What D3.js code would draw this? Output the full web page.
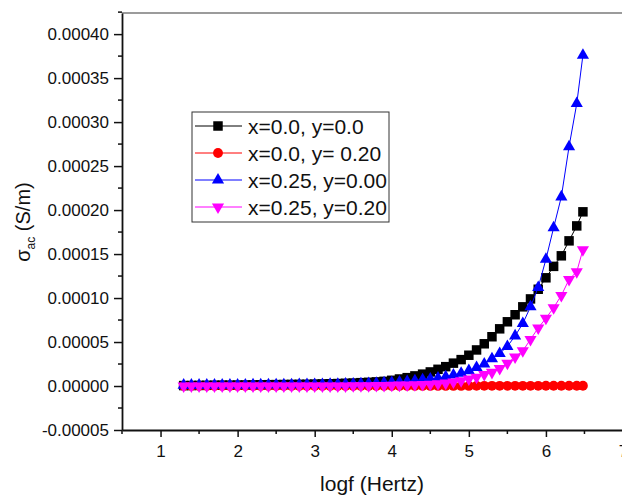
<!DOCTYPE html>
<html>
<head>
<meta charset="utf-8">
<script src="https://cdn.jsdelivr.net/npm/d3@7"></script>
<style>
  body { margin: 0; background: #fff; }
  svg { display: block; font-family: Arial, "Liberation Sans", sans-serif; }
</style>
</head>
<body>
<svg width="622" height="495"></svg>
<script>
// data (sigma in S/m)
const logf = [1.3, 1.4, 1.5, 1.6, 1.7, 1.8, 1.9, 2.0, 2.1, 2.2, 2.3, 2.4, 2.5, 2.6, 2.7, 2.8, 2.9,
  3.0, 3.1, 3.2, 3.3, 3.4, 3.5, 3.6, 3.7, 3.8, 3.9, 4.0, 4.1, 4.2, 4.3, 4.4, 4.5, 4.6, 4.7, 4.8, 4.9,
  5.0, 5.1, 5.2, 5.3, 5.4, 5.5, 5.6, 5.7, 5.8, 5.9, 6.0, 6.1, 6.2, 6.3, 6.4, 6.48];

const sigmaX0Y0 = [0.05e-5, 0.06e-5, 0.07e-5, 0.08e-5, 0.09e-5, 0.10e-5, 0.10e-5, 0.11e-5, 0.12e-5, 0.13e-5,
  0.14e-5, 0.15e-5, 0.16e-5, 0.17e-5, 0.18e-5, 0.19e-5, 0.20e-5, 0.22e-5, 0.24e-5, 0.26e-5, 0.28e-5,
  0.31e-5, 0.34e-5, 0.38e-5, 0.42e-5, 0.47e-5, 0.53e-5, 0.65e-5, 0.80e-5, 0.95e-5, 1.15e-5, 1.35e-5,
  1.6e-5, 1.9e-5, 2.2e-5, 2.6e-5, 3.0e-5, 3.5e-5, 4.1e-5, 4.8e-5, 5.6e-5, 6.5e-5, 7.3e-5, 8.1e-5,
  9.0e-5, 9.9e-5, 11.0e-5, 12.3e-5, 13.6e-5, 14.8e-5, 16.5e-5, 18.2e-5, 19.8e-5];

const sigmaX0Y20 = [0.01e-5, 0.01e-5, 0.01e-5, 0.01e-5, 0.01e-5, 0.01e-5, 0.01e-5, 0.01e-5, 0.01e-5, 0.01e-5,
  0.01e-5, 0.01e-5, 0.01e-5, 0.01e-5, 0.01e-5, 0.01e-5, 0.01e-5, 0.01e-5, 0.01e-5, 0.01e-5, 0.01e-5,
  0.01e-5, 0.01e-5, 0.01e-5, 0.01e-5, 0.01e-5, 0.01e-5, 0.01e-5, 0.01e-5, 0.01e-5, 0.01e-5, 0.01e-5,
  0.01e-5, 0.01e-5, 0.01e-5, 0.01e-5, 0.01e-5, 0.01e-5, 0.02e-5, 0.02e-5, 0.02e-5, 0.02e-5, 0.02e-5,
  0.02e-5, 0.02e-5, 0.02e-5, 0.02e-5, 0.03e-5, 0.03e-5, 0.03e-5, 0.03e-5, 0.03e-5, 0.03e-5];

const sigmaX25Y0 = [0.10e-5, 0.10e-5, 0.10e-5, 0.11e-5, 0.11e-5, 0.11e-5, 0.12e-5, 0.12e-5, 0.12e-5, 0.13e-5,
  0.13e-5, 0.14e-5, 0.14e-5, 0.15e-5, 0.15e-5, 0.16e-5, 0.16e-5, 0.17e-5, 0.18e-5, 0.19e-5, 0.20e-5,
  0.22e-5, 0.24e-5, 0.26e-5, 0.29e-5, 0.32e-5, 0.36e-5, 0.40e-5, 0.45e-5, 0.52e-5, 0.60e-5, 0.70e-5,
  0.80e-5, 0.90e-5, 1.05e-5, 1.25e-5, 1.45e-5, 1.75e-5, 2.1e-5, 2.5e-5, 3.1e-5, 3.7e-5, 4.5e-5, 5.7e-5,
  7.1e-5, 9.0e-5, 11.2e-5, 14.4e-5, 18.0e-5, 21.5e-5, 27.2e-5, 32.1e-5, 37.6e-5];

const sigmaX25Y20 = [0.00e-5, 0.00e-5, 0.00e-5, 0.00e-5, 0.00e-5, 0.00e-5, 0.00e-5, 0.00e-5, 0.00e-5, 0.00e-5,
  0.00e-5, 0.00e-5, 0.00e-5, 0.01e-5, 0.01e-5, 0.01e-5, 0.01e-5, 0.01e-5, 0.01e-5, 0.01e-5, 0.01e-5,
  0.01e-5, 0.02e-5, 0.03e-5, 0.04e-5, 0.05e-5, 0.06e-5, 0.08e-5, 0.10e-5, 0.12e-5, 0.14e-5, 0.17e-5,
  0.20e-5, 0.25e-5, 0.33e-5, 0.45e-5, 0.60e-5, 0.80e-5, 1.0e-5, 1.3e-5, 1.55e-5, 2.0e-5, 2.6e-5, 3.3e-5,
  4.0e-5, 5.3e-5, 6.6e-5, 7.7e-5, 8.9e-5, 10.3e-5, 12.1e-5, 13.0e-5, 15.5e-5];

const seriesNames = ["x=0.0, y=0.0", "x=0.0, y= 0.20", "x=0.25, y=0.00", "x=0.25, y=0.20"];
const seriesColors = ["#000000", "#ff0000", "#0000ff", "#ff00ff"];
const seriesShapes = ["square", "circle", "up", "down"];
const seriesValues = [sigmaX0Y0, sigmaX0Y20, sigmaX25Y0, sigmaX25Y20];

const xTickValues = [1, 2, 3, 4, 5, 6, 7];
const xMinorTicks = [0.5, 1.5, 2.5, 3.5, 4.5, 5.5, 6.5];
const yTickValues = [-0.00005, 0, 0.00005, 0.0001, 0.00015, 0.0002, 0.00025, 0.0003, 0.00035, 0.0004];
const yMinorTicks = [-0.000025, 0.000025, 0.000075, 0.000125, 0.000175, 0.000225, 0.000275, 0.000325, 0.000375, 0.000425];

const svg = d3.select('svg');

// plot box
const plotLeft = 122, plotTop = 13, plotBottom = 430, plotRight = 623;

const x = d3.scaleLinear().domain([0.5, 7]).range([plotLeft, plotRight]);
const y = d3.scaleLinear().domain([-0.00005, 0.000424]).range([plotBottom, plotTop]);

// marker shape builder
function marker(shape) {
    if (shape === 'square') return d3.symbol().type(d3.symbolSquare).size(90)();
    if (shape === 'circle') return d3.symbol().type(d3.symbolCircle).size(76)();
    return d3.symbol().type(d3.symbolTriangle).size(64)();
}

// top frame line (right side is cut off)
svg.append('line')
    .attr('x1', plotLeft).attr('x2', 622)
    .attr('y1', plotTop).attr('y2', plotTop)
    .attr('stroke', '#7a7a7a')
    .attr('stroke-width', 1.5);

// axes
const xAxis = svg.append('g')
    .attr('transform', `translate(0,${plotBottom})`)
    .call(d3.axisBottom(x).tickValues(xTickValues).tickSize(7).tickSizeOuter(0).tickPadding(8)
        .tickFormat(d3.format('d')));

const yAxis = svg.append('g')
    .attr('transform', `translate(${plotLeft},0)`)
    .call(d3.axisLeft(y).tickValues(yTickValues).tickSize(8).tickSizeOuter(0).tickPadding(5)
        .tickFormat(d => d.toFixed(5)));

[xAxis, yAxis].forEach(g => {
    g.select('.domain').attr('stroke', '#111').attr('stroke-width', 1.8);
    g.selectAll('.tick line').attr('stroke', '#111').attr('stroke-width', 1.5);
    g.selectAll('.tick text').attr('font-size', 17).attr('fill', '#111')
        .attr('font-family', 'Arial, "Liberation Sans", sans-serif');
});

// minor ticks
svg.append('g').selectAll('line')
    .data(xMinorTicks)
    .enter().append('line')
    .attr('x1', d => x(d)).attr('x2', d => x(d))
    .attr('y1', plotBottom).attr('y2', plotBottom + 4)
    .attr('stroke', '#111').attr('stroke-width', 1.5);

svg.append('g').selectAll('line')
    .data(yMinorTicks)
    .enter().append('line')
    .attr('x1', plotLeft - 4).attr('x2', plotLeft)
    .attr('y1', d => y(d)).attr('y2', d => y(d))
    .attr('stroke', '#111').attr('stroke-width', 1.5);

// series: lines then markers
const line = d3.line().x(d => x(d[0])).y(d => y(d[1]));

seriesValues.forEach((vals, i) => {
    const pts = logf.map((f, j) => [f, vals[j]]);
    const g = svg.append('g').attr('class', 'series');

    g.append('path')
        .datum(pts)
        .attr('d', line)
        .attr('fill', 'none')
        .attr('stroke', seriesColors[i])
        .attr('stroke-width', 1);

    g.selectAll('path.mark')
        .data(pts)
        .enter().append('path')
        .attr('class', 'mark')
        .attr('d', marker(seriesShapes[i]))
        .attr('transform', d => `translate(${x(d[0])},${y(d[1])})` + (seriesShapes[i] === 'down' ? ' rotate(180)' : ''))
        .attr('fill', seriesColors[i]);
});

// legend
const legend = svg.append('g').attr('transform', 'translate(192,112)');
legend.append('rect')
    .attr('width', 197).attr('height', 110)
    .attr('fill', '#fff')
    .attr('stroke', '#333').attr('stroke-width', 1);

seriesNames.forEach((name, i) => {
    const row = legend.append('g').attr('transform', `translate(0,${14 + i * 27})`);
    row.append('line')
        .attr('x1', 3).attr('x2', 50)
        .attr('stroke', seriesColors[i]).attr('stroke-width', 1);
    row.append('path')
        .attr('d', marker(seriesShapes[i]))
        .attr('transform', 'translate(26,0)' + (seriesShapes[i] === 'down' ? ' rotate(180)' : ''))
        .attr('fill', seriesColors[i]);
    row.append('text')
        .attr('x', 56).attr('dy', '0.36em')
        .attr('font-size', 21)
        .attr('fill', '#111')
        .text(name);
});

// axis titles
svg.append('text')
    .attr('x', (x(0.5) + 622) / 2).attr('y', 491)
    .attr('text-anchor', 'middle')
    .attr('font-size', 21)
    .attr('fill', '#111')
    .text('logf (Hertz)');

const yTitle = svg.append('text')
    .attr('transform', 'translate(30,222) rotate(-90)')
    .attr('text-anchor', 'middle')
    .attr('font-size', 20)
    .attr('fill', '#111');
yTitle.append('tspan').text('σ');
yTitle.append('tspan').attr('font-size', 12).attr('dy', 5).text('ac');
yTitle.append('tspan').attr('dy', -5).text(' (S/m)');
</script>
</body>
</html>
